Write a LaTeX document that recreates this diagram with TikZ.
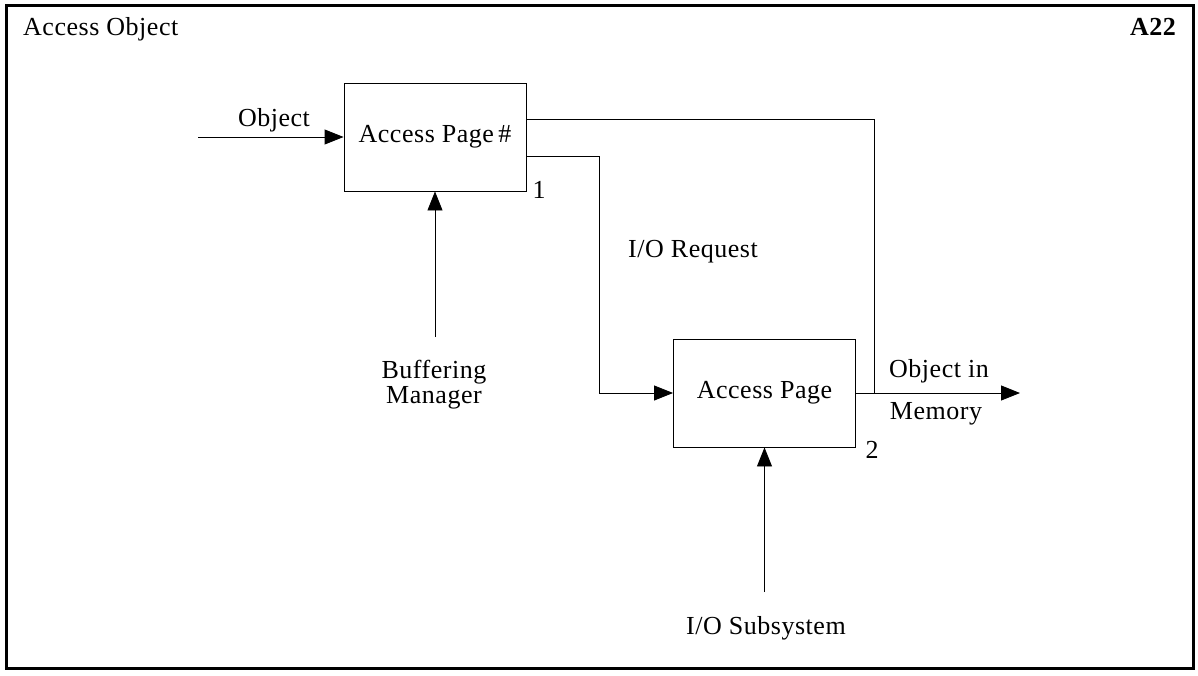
\documentclass[tikz,border=0pt]{standalone}
\usepackage{fontspec}
\setmainfont{Liberation Serif}[LetterSpace=2]
\usetikzlibrary{arrows.meta}
\begin{document}
\begin{tikzpicture}[x=1pt,y=-1pt,
  every node/.style={font=\fontsize{26}{25}\selectfont},
  proc/.style={draw,line width=0.9pt,minimum width=182pt,minimum height=108pt,inner sep=0pt},
  lbl/.style={inner sep=0pt,align=center},
  conn/.style={line width=0.9pt},
  arr/.style={conn,-{Triangle[length=19pt,width=15pt]}}]
\useasboundingbox (0,0) rectangle (1198,675);
\draw[line width=3pt] (6,5) rectangle (1193,668);
\node[lbl,anchor=west] (title) at (23,29) {Access Object};
\node[lbl,anchor=east,font=\fontsize{26}{25}\selectfont\bfseries] (num) at (1176,27) {A22};
% boxes
\node[proc] (b1) at (435,137) {Access Page\,\#};
\node[proc] (b2) at (764.5,393) {Access Page};
\node[lbl] (n1) at (539,190) {1};
\node[lbl] (n2) at (872,450) {2};
% coordinates
\coordinate (objin) at (198,137);
\coordinate (jn) at (874,393);
\coordinate (bend) at (599,393);
\coordinate (out) at (1020,393);
\coordinate (bm) at (435,337);
\coordinate (ios) at (764.5,592);
% labels
\node[lbl] (lobj) at (274,120) {Object};
\node[lbl] (lreq) at (693,252) {I/O Request};
\node[lbl] (lbuf) at (434,385) {Buffering\\Manager};
\node[lbl] (loi) at (939,371) {Object in};
\node[lbl] (lmem) at (936,414) {Memory};
\node[lbl] (lios) at (766,628) {I/O Subsystem};
% connectors
\draw[arr] (objin) -- (objin -| b1.west);
\draw[conn] (b1.east |- 0,119) -| (jn);
\draw[arr] (b1.east |- 0,156) -| (bend) -- (bend -| b2.west);
\draw[arr] (b2.east |- jn) -- (out);
\draw[arr] (bm) -- (b1.south);
\draw[arr] (ios) -- (b2.south);
\end{tikzpicture}
\end{document}
